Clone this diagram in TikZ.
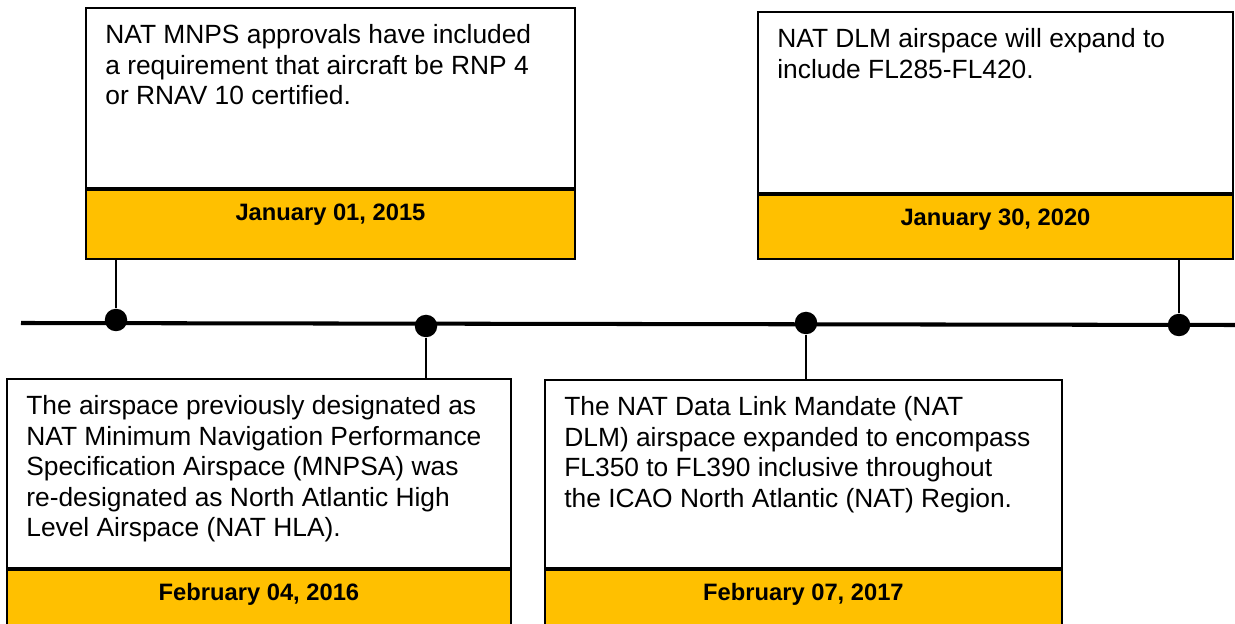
\documentclass[tikz,border=0pt]{standalone}
\usepackage{fontspec}
\setmainfont{Liberation Sans}
\usetikzlibrary{positioning}
\definecolor{dategold}{RGB}{255,192,0}
\tikzset{
  eventbox/.style={draw=black, line width=1.1pt, fill=white, anchor=north west, inner sep=0pt},
  eventtext/.style={anchor=north west, inner sep=0pt, align=left, font={\fontsize{15}{17.4}\selectfont}},
  datebox/.style={draw=black, line width=1.1pt, fill=dategold, anchor=north, inner sep=0pt,
    text height=10pt, text depth=15pt, font={\fontsize{13.5}{16}\selectfont\bfseries}},
  milestone/.style={circle, fill=black, inner sep=0pt, minimum size=0.45cm},
  stem/.style={line width=0.85pt},
  timeline/.style={line width=2.3pt}
}
\begin{document}
\begin{tikzpicture}
  \useasboundingbox (0,0) rectangle (24.70,-12.48);
  \clip (0,0) rectangle (24.70,-12.48);

  \coordinate (tl0) at (0.42,-6.46);
  \coordinate (tl1) at (24.70,-6.50);
  \draw[timeline] (tl0) -- (tl1);

  \node[milestone] (p1) at (2.32,-6.40) {};
  \node[milestone] (p2) at (8.52,-6.52) {};
  \node[milestone] (p3) at (16.12,-6.46) {};
  \node[milestone] (p4) at (23.58,-6.50) {};

  \node[eventbox, minimum width=9.78cm, minimum height=3.60cm] (e1) at (1.70,-0.14) {};
  \node[datebox, minimum width=9.78cm, minimum height=1.38cm] (d1) at (e1.south) {January 01, 2015};
  \node[eventtext] (t1) at ([shift={(0.40,-0.34)}]e1.north west)
    {NAT MNPS approvals have included\\a requirement that aircraft be RNP 4\\or RNAV 10 certified.};

  \node[eventbox, minimum width=9.50cm, minimum height=3.62cm] (e2) at (15.14,-0.22) {};
  \node[datebox, minimum width=9.50cm, minimum height=1.28cm, text depth=12pt] (d2) at (e2.south) {January 30, 2020};
  \node[eventtext] (t2) at ([shift={(0.40,-0.34)}]e2.north west)
    {NAT DLM airspace will expand to\\include FL285-FL420.};

  \node[eventbox, minimum width=10.08cm, minimum height=3.78cm] (e3) at (0.12,-7.56) {};
  \node[datebox, minimum width=10.08cm, minimum height=1.38cm] (d3) at (e3.south) {February 04, 2016};
  \node[eventtext] (t3) at ([shift={(0.40,-0.34)}]e3.north west)
    {The airspace previously designated as\\NAT Minimum Navigation Performance\\Specification Airspace (MNPSA) was\\re-designated as North Atlantic High\\Level Airspace (NAT HLA).};

  \node[eventbox, minimum width=10.34cm, minimum height=3.76cm] (e4) at (10.88,-7.58) {};
  \node[datebox, minimum width=10.34cm, minimum height=1.38cm] (d4) at (e4.south) {February 07, 2017};
  \node[eventtext] (t4) at ([shift={(0.40,-0.34)}]e4.north west)
    {The NAT Data Link Mandate (NAT\\DLM) airspace expanded to encompass\\FL350 to FL390 inclusive throughout\\the ICAO North Atlantic (NAT) Region.};

  \draw[stem] (d1.south -| p1) -- (p1);
  \draw[stem] (p2) -- (p2 |- e3.north);
  \draw[stem] (p3) -- (p3 |- e4.north);
  \draw[stem] (d2.south -| p4) -- (p4);
\end{tikzpicture}
\end{document}
